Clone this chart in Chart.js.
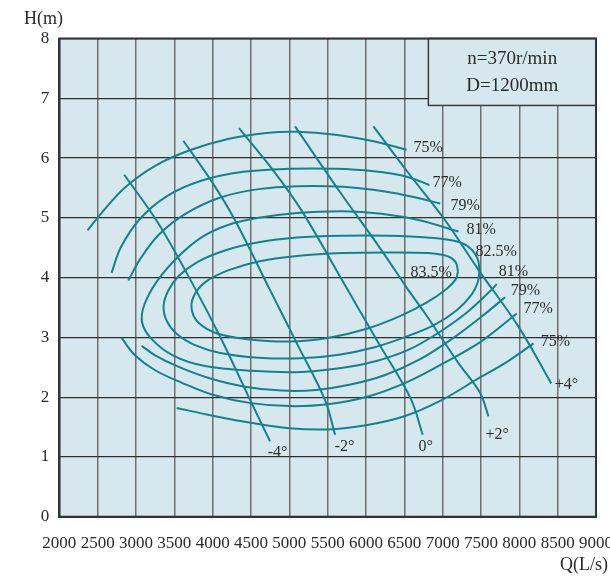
<!DOCTYPE html>
<html>
<head>
<meta charset="utf-8">
<title>Pump performance chart</title>
<script src="https://cdn.jsdelivr.net/npm/chart.js@4.4.1/dist/chart.umd.min.js"></script>
<style>
    html, body { margin: 0; padding: 0; background: #fff; }
    canvas { display: block; }
</style>
</head>
<body>
<canvas id="pumpChart" width="610" height="578"></canvas>
<script>
// Axis ticks
var xTicks = [2000, 2500, 3000, 3500, 4000, 4500, 5000, 5500, 6000, 6500, 7000, 7500, 8000, 8500, 9000];
var yTicks = [0, 1, 2, 3, 4, 5, 6, 7, 8];

// Efficiency contours, [Q (L/s), H (m)]
var eff75Upper = [[2368, 4.79], [2550, 5.08], [2850, 5.50], [3250, 5.87], [3700, 6.13], [4200, 6.32], [4700, 6.42], [5100, 6.44], [5600, 6.39], [6100, 6.28], [6531, 6.14]];
var eff77Upper = [[2682, 4.08], [2800, 4.50], [3050, 4.98], [3400, 5.36], [3850, 5.62], [4400, 5.77], [5000, 5.82], [5600, 5.82], [6100, 5.78], [6500, 5.70], [6828, 5.55]];
var eff79Upper = [[2900, 3.95], [3050, 4.30], [3300, 4.72], [3650, 5.07], [4100, 5.34], [4600, 5.48], [5100, 5.53], [5700, 5.52], [6250, 5.44], [6650, 5.34], [6967, 5.24]];
var eff81 = [[7206, 4.77], [6700, 4.96], [6200, 5.07], [5700, 5.11], [5100, 5.08], [4600, 5.00], [4200, 4.88], [3850, 4.67], [3550, 4.35], [3280, 3.95], [3110, 3.55], [3080, 3.25], [3200, 2.98], [3480, 2.70], [3900, 2.52], [4500, 2.44], [5150, 2.42], [5700, 2.49], [6150, 2.61], [6550, 2.79], [6900, 3.04], [7300, 3.40], [7600, 3.75], [7706, 3.89]];
var eff825 = [[7480, 4.12], [7460, 4.30], [7370, 4.48], [7200, 4.60], [6800, 4.67], [6300, 4.70], [5700, 4.70], [5100, 4.67], [4600, 4.59], [4150, 4.45], [3800, 4.26], [3560, 4.03], [3420, 3.78], [3360, 3.52], [3400, 3.28], [3530, 3.06], [3770, 2.87], [4100, 2.74], [4600, 2.66], [5150, 2.65], [5650, 2.71], [6100, 2.83], [6500, 3.00], [6880, 3.20], [7180, 3.45], [7380, 3.72], [7460, 3.93], [7480, 4.12]];
var eff835 = [[7200, 4.10], [7170, 4.26], [7060, 4.36], [6800, 4.41], [6300, 4.42], [5700, 4.41], [5100, 4.36], [4600, 4.27], [4200, 4.12], [3900, 3.92], [3750, 3.68], [3730, 3.45], [3820, 3.24], [4050, 3.07], [4450, 2.97], [5000, 2.93], [5500, 2.99], [6000, 3.14], [6450, 3.36], [6800, 3.59], [7050, 3.81], [7170, 3.97], [7200, 4.10]];
var eff79Lower = [[3073, 2.86], [3250, 2.70], [3550, 2.51], [3950, 2.32], [4400, 2.18], [4900, 2.11], [5350, 2.12], [5800, 2.21], [6250, 2.37], [6700, 2.63], [7150, 3.00], [7500, 3.34], [7815, 3.67]];
var eff77Lower = [[2812, 2.99], [2980, 2.71], [3250, 2.45], [3600, 2.24], [4000, 2.04], [4500, 1.90], [5000, 1.85], [5500, 1.88], [6050, 2.02], [6550, 2.26], [7000, 2.56], [7500, 2.93], [7967, 3.40]];
var eff75Lower = [[3530, 1.82], [4000, 1.69], [4500, 1.57], [5000, 1.48], [5500, 1.46], [6000, 1.53], [6500, 1.68], [7000, 1.96], [7450, 2.30], [7850, 2.60], [8185, 2.90]];

// Blade angle lines
var angleM4 = [[2847, 5.72], [3291, 4.91], [3770, 3.82], [4117, 2.96], [4509, 1.90], [4749, 1.26]];
var angleM2 = [[3617, 6.29], [3987, 5.61], [4292, 4.96], [4749, 3.79], [5118, 2.85], [5466, 1.95], [5597, 1.37]];
var angle0 = [[4344, 6.50], [4792, 5.79], [5161, 5.12], [5714, 3.90], [6161, 2.91], [6582, 1.98], [6740, 1.37]];
var angleP2 = [[5075, 6.53], [5640, 5.47], [6201, 4.46], [6553, 3.79], [6771, 3.40], [7206, 2.57], [7489, 2.07], [7597, 1.68]];
var angleP4 = [[6097, 6.53], [6553, 5.75], [7032, 4.96], [7467, 4.13], [7989, 3.18], [8416, 2.23]];

// Curve labels
var effLabels = ['75%', '77%', '79%', '81%', '82.5%', '83.5%', '81%', '79%', '77%', '75%'];
var effLabelQ = [6619, 6867, 7102, 7311, 7428, 6580, 7730, 7887, 8056, 8278];
var effLabelH = [6.17, 5.58, 5.20, 4.80, 4.43, 4.08, 4.10, 3.78, 3.48, 2.92];
var angleLabels = ['-4°', '-2°', '0°', '+2°', '+4°'];
var angleLabelQ = [4718, 5593, 6686, 7560, 8461];
var angleLabelH = [1.07, 1.17, 1.17, 1.37, 2.20];

// Info box
var infoLines = ['n=370r/min', 'D=1200mm'];
var infoBoxQ = 6814;
var infoBoxH = 6.88;

var SERIF = "'Liberation Serif', 'Times New Roman', serif";
var CURVE_COLOR = '#11838f';
var PANEL_COLOR = '#d6e8ee';
var TEXT_COLOR = '#2b2b2b';

var curves = [eff75Upper, eff77Upper, eff79Upper, eff81, eff825, eff835, eff79Lower, eff77Lower, eff75Lower,
    angleM4, angleM2, angle0, angleP2, angleP4];

function toPoints(arr) {
    return arr.map(function(p) { return { x: p[0], y: p[1] }; });
}

// фон, рамка и подписи
var panelPlugin = {
    id: 'panel',
    beforeDraw: function(chart) {
        var a = chart.chartArea, c = chart.ctx;
        c.save();
        c.fillStyle = PANEL_COLOR;
        c.fillRect(a.left, a.top, a.right - a.left, a.bottom - a.top);
        c.restore();
    },
    beforeDatasetsDraw: function(chart) {
        var a = chart.chartArea, c = chart.ctx;
        var xs = chart.scales.x, ys = chart.scales.y;
        var bx = xs.getPixelForValue(infoBoxQ);
        var by = ys.getPixelForValue(infoBoxH);
        c.save();
        c.fillStyle = PANEL_COLOR;
        c.fillRect(bx, a.top, a.right - bx, by - a.top);
        c.strokeStyle = '#3a3a3a';
        c.lineWidth = 1.5;
        c.strokeRect(bx, a.top, a.right - bx, by - a.top);
        c.fillStyle = TEXT_COLOR;
        c.font = '19px ' + SERIF;
        c.textAlign = 'center';
        c.textBaseline = 'middle';
        var cx = (bx + a.right) / 2;
        c.fillText(infoLines[0], cx, a.top + 21);
        c.fillText(infoLines[1], cx, a.top + 48);
        c.restore();
    },
    afterDatasetsDraw: function(chart) {
        var c = chart.ctx;
        var xs = chart.scales.x, ys = chart.scales.y;
        c.save();
        c.fillStyle = TEXT_COLOR;
        c.font = '16px ' + SERIF;
        c.textAlign = 'left';
        c.textBaseline = 'middle';
        for (var i = 0; i < effLabels.length; i++) {
            c.fillText(effLabels[i], xs.getPixelForValue(effLabelQ[i]), ys.getPixelForValue(effLabelH[i]));
        }
        for (var j = 0; j < angleLabels.length; j++) {
            c.fillText(angleLabels[j], xs.getPixelForValue(angleLabelQ[j]), ys.getPixelForValue(angleLabelH[j]));
        }
        c.restore();
    },
    afterDraw: function(chart) {
        var a = chart.chartArea, c = chart.ctx;
        c.save();
        c.strokeStyle = '#333';
        c.lineWidth = 2;
        c.strokeRect(a.left, a.top, a.right - a.left, a.bottom - a.top);
        c.fillStyle = TEXT_COLOR;
        c.font = '18px ' + SERIF;
        c.textBaseline = 'middle';
        c.textAlign = 'left';
        c.fillText('H(m)', 24, 19);
        c.textAlign = 'right';
        c.fillText('Q(L/s)', 608, 565);
        c.restore();
    }
};

var ctx = document.getElementById('pumpChart').getContext('2d');
new Chart(ctx, {
    type: 'scatter',
    data: {
        datasets: curves.map(function(arr) {
            return {
                data: toPoints(arr),
                showLine: true,
                borderColor: CURVE_COLOR,
                borderWidth: 2,
                pointRadius: 0,
                tension: 0.35,
                fill: false
            };
        })
    },
    options: {
        responsive: false,
        animation: false,
        events: [],
        layout: { padding: { top: 38.5, right: 14, left: 0, bottom: 0 } },
        plugins: {
            legend: { display: false },
            tooltip: { enabled: false }
        },
        scales: {
            x: {
                type: 'linear',
                min: 2000,
                max: 9000,
                afterBuildTicks: function(s) { s.ticks = xTicks.map(function(v) { return { value: v }; }); },
                afterFit: function(s) { s.height = 61.3; s.paddingLeft = 0; s.paddingRight = 0; },
                ticks: {
                    color: TEXT_COLOR, font: { family: SERIF, size: 17 }, padding: 17, maxRotation: 0, autoSkip: false,
                    callback: function(v) { return String(v); }
                },
                grid: { color: '#6f6f6f', lineWidth: 1.5, drawTicks: false },
                border: { color: '#333', width: 2 }
            },
            y: {
                type: 'linear',
                min: 0,
                max: 8,
                afterBuildTicks: function(s) { s.ticks = yTicks.map(function(v) { return { value: v }; }); },
                afterFit: function(s) { s.width = 59.3; s.paddingTop = 0; s.paddingBottom = 0; },
                ticks: { color: TEXT_COLOR, font: { family: SERIF, size: 17 }, padding: 10 },
                grid: { color: '#2e2e2e', lineWidth: 1.3, drawTicks: false },
                border: { color: '#333', width: 2 }
            }
        }
    },
    plugins: [panelPlugin]
});
</script>
</body>
</html>
